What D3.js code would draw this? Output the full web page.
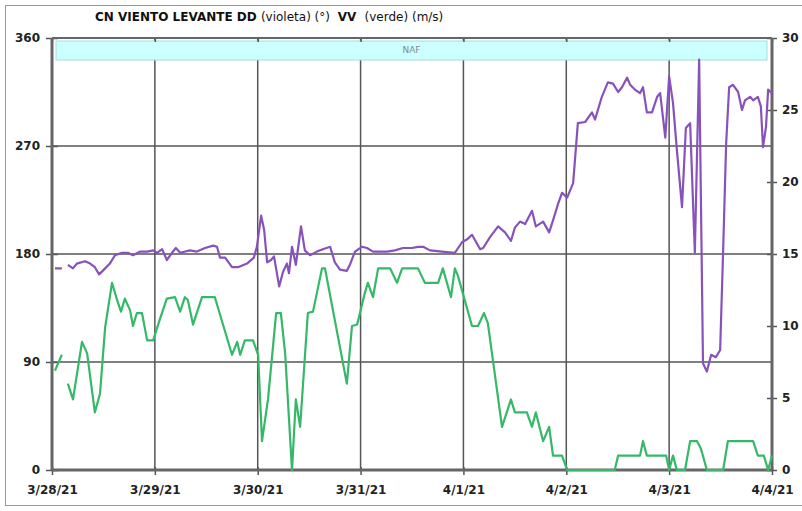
<!DOCTYPE html>
<html lang="es">
<head>
<meta charset="UTF-8" />
<title>CN VIENTO LEVANTE</title>
<script src="https://d3js.org/d3.v7.min.js"></script>
<style>
  body { margin: 0; background: #fff; font-family: "DejaVu Sans", Verdana, sans-serif; }
  .tick text { font-family: "DejaVu Sans", sans-serif; font-size: 12px; font-weight: bold; fill: #222; }
  .tick line { stroke: #555; stroke-width: 1.5px; }
  .grid line { stroke: #555; stroke-width: 1.5px; }
</style>
</head>
<body>
<svg width="802" height="511"></svg>
<script>
// day labels on x axis (3/28/21 .. 4/4/21)
const dayLabels = ["3/28/21", "3/29/21", "3/30/21", "3/31/21", "4/1/21", "4/2/21", "4/3/21", "4/4/21"];
const ddTicks = [0, 90, 180, 270, 360];
const vvTicks = [0, 5, 10, 15, 20, 25, 30];

// DD (direction, degrees) - hours since 3/28/21 00:00, null = gap
const ddHours = [0.7, 2.3, 3.0, 3.7, 4.9, 5.8, 7.7, 8.9, 10.0, 11.0, 12.4, 13.5, 14.7, 16.3, 17.7, 18.9, 20.5, 22.2, 23.6,
  24.5, 25.7, 26.8, 28.0, 28.9, 29.9, 32.2, 33.8, 35.7, 37.6, 38.5, 39.2, 40.4, 42.0, 43.4, 45.5, 47.1, 47.8,
  48.8, 49.5, 50.2, 51.1, 51.8, 53.0, 53.9, 54.8, 55.3, 56.0, 56.9, 58.1, 59.0, 60.2, 61.8, 63.2, 64.9, 66.0,
  67.2, 68.8, 69.5, 70.7, 72.3, 73.5, 74.9, 78.2, 80.0, 81.9, 84.0, 85.4, 86.6, 88.2, 91.0, 94.0, 95.7, 96.8,
  98.0, 99.9, 100.6, 102.2, 104.1, 105.7, 107.1, 108.0, 109.2, 110.4, 112.0, 112.9, 114.6, 116.0, 116.9, 118.1,
  119.0, 120.2, 121.6, 122.7, 124.4, 126.0, 126.7, 128.3, 129.7, 130.9, 132.1, 133.0, 134.2, 134.9, 136.0,
  137.2, 137.9, 138.8, 140.0, 141.2, 141.9, 143.1, 144.0, 144.9, 145.8, 147.0, 147.9, 148.9, 150.0, 151.0,
  151.9, 152.8, 153.8, 154.9, 155.9, 156.6, 157.3, 158.0, 158.9, 160.1, 161.0, 161.7, 162.9, 163.6, 164.7,
  165.4, 165.9, 166.6, 167.1, 168.0];
const ddValues = [168, 168, null, 171, 168, 172, 174, 172, 169, 163, 168, 172, 179, 181, 181, 179, 182, 182, 183,
  181, 184, 175, 181, 185, 181, 183, 182, 185, 187, 186, 177, 177, 169, 169, 172, 177, 186,
  212, 200, 173, 175, 178, 153, 165, 172, 164, 186, 171, 203, 183, 179, 182, 184, 186, 173,
  167, 166, 171, 182, 186, 185, 182, 182, 183, 185, 185, 186, 186, 183, 182, 181, 190, 192,
  196, 184, 185, 194, 203, 198, 191, 202, 207, 205, 216, 203, 207, 198, 208, 222,
  231, 227, 239, 289, 290, 298, 292, 311, 323, 322, 315, 319, 327, 321, 317,
  314, 319, 298, 298, 311, 314, 277, 328, 306, 267, 219, 285, 289, 181, 342,
  89, 82, 96, 94, 100, 183, 272, 319, 321, 315, 300, 308, 311, 308, 311,
  303, 269, 286, 317, 314];

// VV (speed, m/s)
const vvHours = [0.7, 2.3, 3.0, 3.7, 4.9, 7.0, 8.2, 10.0, 11.2, 12.4, 14.0, 15.2, 16.1, 17.0, 18.2, 18.9, 19.8, 21.0,
  22.2, 23.6, 25.2, 26.8, 28.7, 29.9, 31.0, 31.7, 32.9, 35.0, 38.0, 42.0, 43.2, 43.9, 45.0, 46.9, 48.1, 49.0,
  50.4, 52.3, 53.4, 54.4, 56.0, 56.9, 57.9, 59.7, 60.9, 63.0, 63.7, 68.8, 70.0, 71.2, 73.0, 73.7, 74.9, 76.1,
  78.9, 80.5, 81.7, 85.4, 87.0, 90.1, 91.2, 93.1, 94.0, 94.7, 98.0, 99.4, 100.8, 101.7, 105.0, 107.1, 108.0,
  110.8, 112.0, 112.9, 114.6, 116.0, 116.9, 119.0, 120.2, 131.3, 132.1, 137.2, 137.9, 138.8, 143.3, 144.0,
  144.9, 145.8, 147.7, 148.9, 150.5, 151.4, 152.8, 156.6, 157.7, 163.6, 164.7, 166.1, 167.1, 168.0];
const vvValues = [6.9, 8.0, null, 6.0, 4.9, 8.9, 8.1, 4.0, 5.3, 9.9, 13.0, 11.8, 11.0, 11.9, 11.1, 10.0, 10.9, 10.9,
  9.0, 9.0, 10.5, 11.9, 12.0, 11.0, 12.0, 11.8, 10.1, 12.0, 12.0, 8.0, 8.9, 8.0, 9.0, 9.0, 8.0, 2.0,
  4.9, 10.9, 10.9, 8.1, 0, 4.9, 3.0, 10.9, 11.0, 14.0, 14.0, 6.0, 10.0, 10.1, 12.3, 13.0, 12.0, 14.0,
  14.0, 13.0, 14.0, 14.0, 13.0, 13.0, 14.0, 12.0, 14.0, 13.5, 10.0, 10.0, 10.9, 10.2, 3.0, 4.9, 4.0,
  4.0, 3.0, 4.0, 2.0, 3.0, 1.0, 1.0, 0, 0, 1.0, 1.0, 2.0, 1.0, 1.0, 0,
  1.0, 0, 0, 2.0, 2.0, 1.5, 0, 0, 2.0, 2.0, 1.0, 1.0, 0, 1.0];

const svg = d3.select("svg");
const plotLeft = 52, plotRight = 772, plotTop = 38, plotBottom = 470;
const start = new Date(2021, 2, 28);
const dayDates = dayLabels.map((d, i) => d3.timeDay.offset(start, i));
const at = h => new Date(start.getTime() + h * 3600e3);

const x = d3.scaleTime().domain([dayDates[0], dayDates[dayDates.length - 1]]).range([plotLeft, plotRight]);
const yDD = d3.scaleLinear().domain([0, 360]).range([plotBottom, plotTop]);
const yVV = d3.scaleLinear().domain([0, 30]).range([plotBottom, plotTop]);

// outer frame
svg.append("rect").attr("x", 5.5).attr("y", 5.5).attr("width", 800).attr("height", 500)
  .attr("fill", "none").attr("stroke", "#999").attr("stroke-width", 1);

// title
const title = svg.append("text").attr("x", 95).attr("y", 21)
  .style("font-family", "DejaVu Sans, sans-serif").style("font-size", "12px").attr("fill", "#111")
  .attr("xml:space", "preserve").style("white-space", "pre");
title.append("tspan").attr("font-weight", "bold").text("CN VIENTO LEVANTE DD ");
title.append("tspan").text("(violeta) (°)  ");
title.append("tspan").attr("font-weight", "bold").text("VV  ");
title.append("tspan").text("(verde) (m/s)");

// grid
const grid = svg.append("g").attr("class", "grid");
grid.selectAll(".v").data(dayDates.slice(1, -1)).join("line")
  .attr("x1", d => x(d)).attr("x2", d => x(d)).attr("y1", plotTop).attr("y2", plotBottom);
grid.selectAll(".h").data([90, 180, 270]).join("line")
  .attr("x1", plotLeft).attr("x2", plotRight).attr("y1", d => yDD(d)).attr("y2", d => yDD(d));

// NAF band
svg.append("rect").attr("x", 56).attr("y", 41).attr("width", 711).attr("height", 19)
  .attr("fill", "#ccffff").attr("stroke", "#9fdede").attr("stroke-width", 1);
svg.append("text").attr("x", (56 + 767) / 2).attr("y", 53).attr("text-anchor", "middle")
  .style("font-family", "DejaVu Sans, sans-serif").style("font-size", "9px").attr("fill", "#888").text("NAF");

// axes
const yAxisL = d3.axisLeft(yDD).tickValues(ddTicks).tickSize(12).tickPadding(6);
svg.append("g").attr("transform", `translate(${plotLeft + 6},0)`).call(yAxisL).call(g => g.select(".domain").remove());
const yAxisR = d3.axisRight(yVV).tickValues(vvTicks).tickSize(10).tickPadding(5);
svg.append("g").attr("transform", `translate(${plotRight - 5},0)`).call(yAxisR).call(g => g.select(".domain").remove());
const xAxis = d3.axisBottom(x).tickValues(dayDates).tickFormat((d, i) => dayLabels[i]).tickSize(8).tickPadding(10);
svg.append("g").attr("transform", `translate(0,${plotBottom - 3})`).call(xAxis).call(g => g.select(".domain").remove());
const xTop = d3.axisBottom(x).tickValues(dayDates).tickFormat("").tickSize(4);
svg.append("g").attr("transform", `translate(0,${plotTop})`).call(xTop).call(g => g.select(".domain").remove());

// frame lines
svg.append("line").attr("x1", plotLeft).attr("x2", plotRight).attr("y1", plotTop).attr("y2", plotTop)
  .attr("stroke", "#666").attr("stroke-width", 2);
svg.append("line").attr("x1", plotLeft).attr("x2", plotRight).attr("y1", plotBottom).attr("y2", plotBottom)
  .attr("stroke", "#666").attr("stroke-width", 3);
svg.append("line").attr("x1", plotLeft).attr("x2", plotLeft).attr("y1", plotTop).attr("y2", plotBottom)
  .attr("stroke", "#666").attr("stroke-width", 3);
svg.append("line").attr("x1", plotRight).attr("x2", plotRight).attr("y1", plotTop).attr("y2", plotBottom)
  .attr("stroke", "#666").attr("stroke-width", 3);

// series
const ddData = ddHours.map((h, i) => ({ t: at(h), v: ddValues[i] }));
const vvData = vvHours.map((h, i) => ({ t: at(h), v: vvValues[i] }));

svg.append("path").datum(vvData)
  .attr("fill", "none").attr("stroke", "#35b868").attr("stroke-width", 2.2).attr("stroke-linejoin", "round")
  .attr("d", d3.line().defined(d => d.v != null).x(d => x(d.t)).y(d => yVV(d.v)));
svg.append("path").datum(ddData)
  .attr("fill", "none").attr("stroke", "#8852bc").attr("stroke-width", 2.2).attr("stroke-linejoin", "round")
  .attr("d", d3.line().defined(d => d.v != null).x(d => x(d.t)).y(d => yDD(d.v)));
</script>
</body>
</html>
